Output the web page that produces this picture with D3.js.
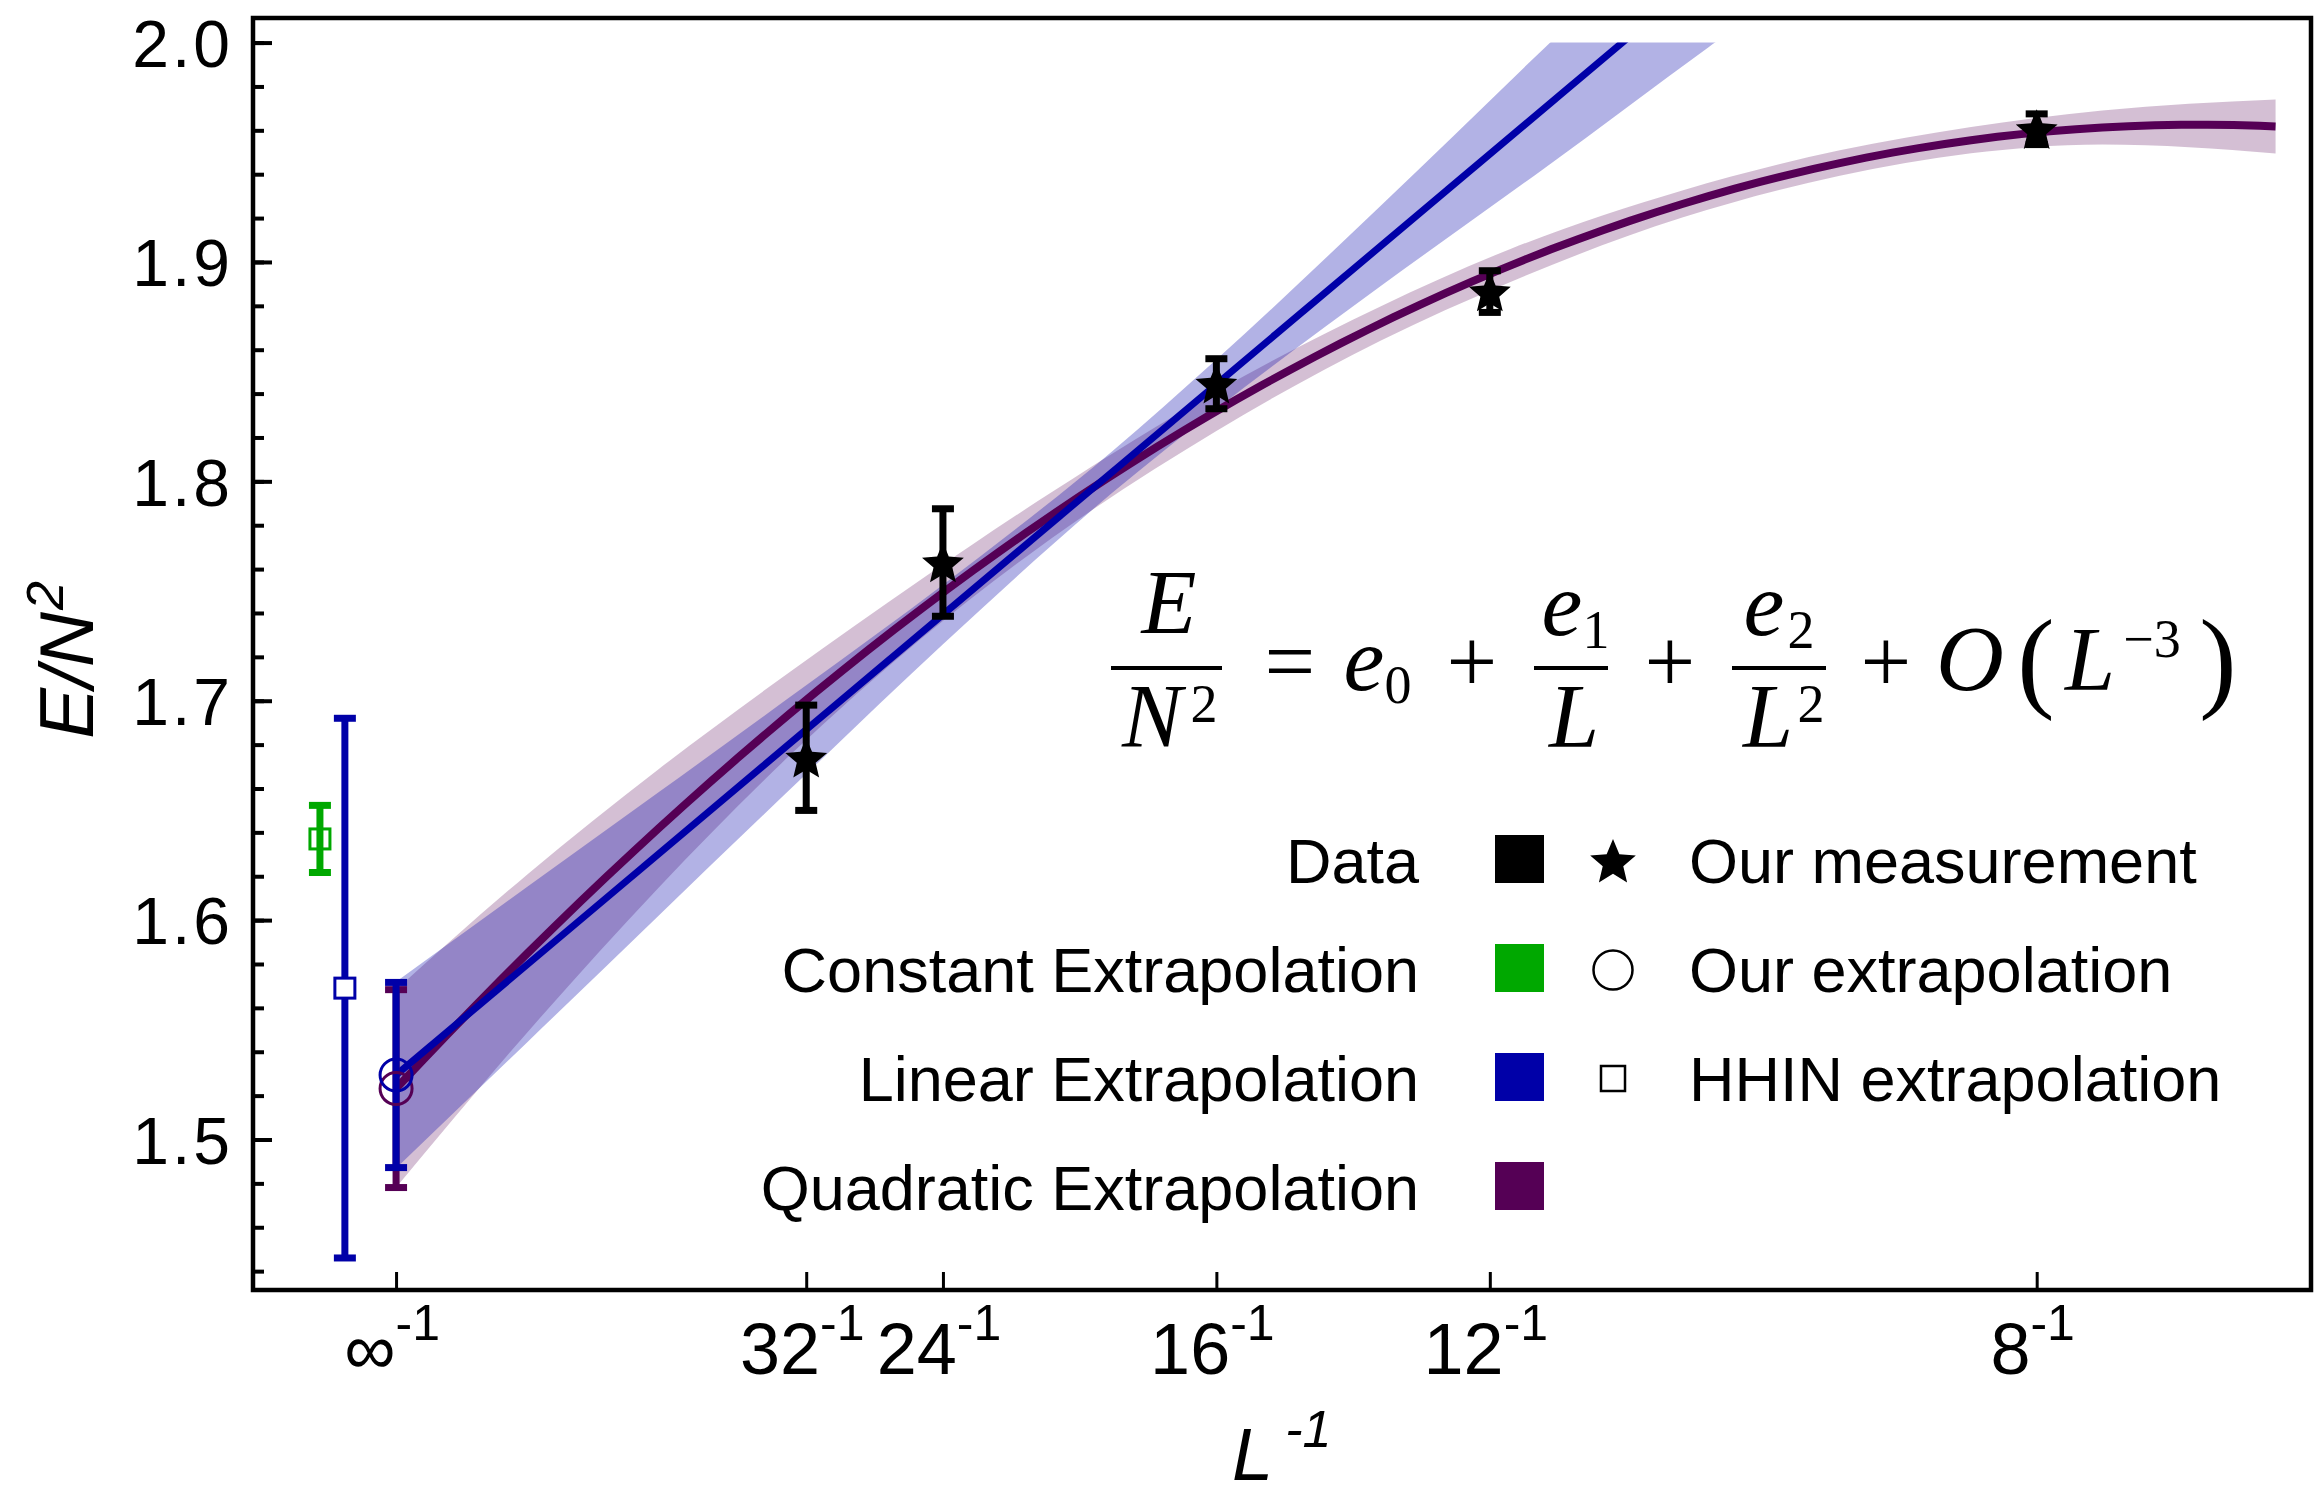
<!DOCTYPE html>
<html>
<head>
<meta charset="utf-8">
<script src="https://cdn.jsdelivr.net/npm/d3@7"></script>
<style>
  body { margin: 0; background: #fff; }
  svg { display: block; }
  text { font-family: 'Liberation Sans', Arial, Helvetica, sans-serif; }
  .math text { font-family: 'Liberation Serif', 'Times New Roman', serif; }
</style>
</head>
<body>
<div id="chart"></div>
<script>
// measured energies at each lattice size L
const sizes = [32, 24, 16, 12, 8]
const energy = [1.674, 1.763, 1.8445, 1.8865, 1.9605]
const energyErr = [0.024, 0.0245, 0.0114, 0.0095, 0.007]

// our extrapolations to L -> infinity
const ourNames = ['quadratic', 'linear']
const ourValues = [1.5232, 1.5294]
const ourErrs = [0.0451, 0.0422]

// HHIN extrapolations (drawn slightly left of L^-1 = 0)
const hhinNames = ['constant', 'linear']
const hhinX = [-0.0058, -0.0039]
const hhinValues = [1.637, 1.569]
const hhinErrs = [0.0153, 0.123]

// fit coefficients e0 + e1/L + e2/L^2
const linearFit = [1.5294, 5.037]
const quadFit = [1.5232, 6.395, -23.27]

// half widths of the shaded bands, read at these L^-1
const linBandX = [0, 0.01, 0.02, 0.03125, 0.04167, 0.0545, 0.0625, 0.075, 0.0875, 0.1, 0.11]
const linBandH = [0.0425, 0.0354, 0.0281, 0.0202, 0.0136, 0.0095, 0.0113, 0.0183, 0.0274, 0.0352, 0.0425]
const quadBandX = [0, 0.01, 0.02, 0.03, 0.04, 0.05, 0.0625, 0.075, 0.085, 0.098, 0.11, 0.12, 0.13, 0.1432]
const quadBandH = [0.0451, 0.036, 0.027, 0.019, 0.0135, 0.0105, 0.009, 0.0078, 0.0075, 0.0062, 0.0058, 0.006, 0.0078, 0.0123]

// axis ticks
const xTickSizes = [Infinity, 32, 24, 16, 12, 8]
const xTickText = ['\u221E', '32', '24', '16', '12', '8']
const yMajor = [1.5, 1.6, 1.7, 1.8, 1.9, 2.0]
const yMinor = d3.range(1.44, 2.001, 0.02)

// legend
const legendLeft = ['Data', 'Constant Extrapolation', 'Linear Extrapolation', 'Quadratic Extrapolation']
const legendRight = ['Our measurement', 'Our extrapolation', 'HHIN extrapolation']

const colors = { data: '#000', constant: '#00a800', linear: '#0000a8', quadratic: '#550055' }
const legendColors = [colors.data, colors.constant, colors.linear, colors.quadratic]

// sizes
const W = 2318, H = 1485
const frame = { left: 253, right: 2311, top: 18, bottom: 1290 }

const svg = d3.select('#chart').append('svg')
  .attr('width', W)
  .attr('height', H)

const x = d3.scaleLinear().domain([-0.0109, 0.1459]).range([frame.left, frame.right])
const y = d3.scaleLinear().domain([1.4314, 2.0112]).range([frame.bottom, frame.top])

const poly = c => t => c.reduce((s, ck, k) => s + ck * Math.pow(t, k), 0)
const linF = poly(linearFit)
const quadF = poly(quadFit)

// clip paths
const defs = svg.append('defs')
defs.append('clipPath').attr('id', 'plotClip')
  .append('rect')
    .attr('x', frame.left).attr('y', frame.top)
    .attr('width', frame.right - frame.left).attr('height', frame.bottom - frame.top)
defs.append('clipPath').attr('id', 'fitClip')
  .append('rect')
    .attr('x', frame.left).attr('y', y(2.0))
    .attr('width', frame.right - frame.left).attr('height', frame.bottom - y(2.0))

const plot = svg.append('g').attr('clip-path', 'url(#plotClip)')
const fits = plot.append('g').attr('clip-path', 'url(#fitClip)')

// bands
const band = (f, xs, hs) => {
  const pts = xs.map((v, i) => ({ x: v, h: hs[i] }))
  return d3.area()
    .x(d => x(d.x))
    .y0(d => y(f(d.x) - d.h))
    .y1(d => y(f(d.x) + d.h))
    .curve(d3.curveMonotoneX)(pts)
}

fits.append('path')
    .attr('d', band(quadF, quadBandX, quadBandH))
    .attr('fill', colors.quadratic)
    .attr('fill-opacity', 0.25)

fits.append('path')
    .attr('d', band(linF, linBandX, linBandH))
    .attr('fill', colors.linear)
    .attr('fill-opacity', 0.3)

// fit lines
const line = d3.line().x(d => x(d[0])).y(d => y(d[1]))
const quadXs = d3.range(0, 0.1432, 0.002).concat([0.1432])
fits.append('path')
    .attr('d', line(quadXs.map(t => [t, quadF(t)])))
    .attr('fill', 'none')
    .attr('stroke', colors.quadratic)
    .attr('stroke-width', 8)

fits.append('path')
    .attr('d', line([0, 0.11].map(t => [t, linF(t)])))
    .attr('fill', 'none')
    .attr('stroke', colors.linear)
    .attr('stroke-width', 7)

// error bars
const errorBar = (g, xv, yv, err, color, lw, capW) => {
  const px = x(xv)
  g.append('line')
      .attr('x1', px).attr('x2', px)
      .attr('y1', y(yv - err)).attr('y2', y(yv + err))
      .attr('stroke', color).attr('stroke-width', lw)
  ;[yv - err, yv + err].forEach(v => {
    g.append('line')
        .attr('x1', px - capW / 2).attr('x2', px + capW / 2)
        .attr('y1', y(v)).attr('y2', y(v))
        .attr('stroke', color).attr('stroke-width', lw)
  })
}

// five point star with fat arms, like the font glyph
const starPath = (R) => {
  const pts = d3.range(10).map(k => {
    const r = k % 2 ? R * 0.45 : R
    const a = Math.PI * k / 5
    return [r * Math.sin(a), -r * Math.cos(a)]
  })
  return d3.line()(pts) + 'Z'
}

const marks = plot.append('g')

// our extrapolations at L^-1 = 0
ourNames.forEach((n, i) => errorBar(marks, 0, ourValues[i], ourErrs[i], colors[n], 7, 22))
ourNames.forEach((n, i) => {
  marks.append('circle')
      .attr('cx', x(0)).attr('cy', y(ourValues[i]))
      .attr('r', 16)
      .attr('fill', 'none')
      .attr('stroke', colors[n])
      .attr('stroke-width', 3)
})

// HHIN extrapolations
hhinNames.forEach((n, i) => {
  errorBar(marks, hhinX[i], hhinValues[i], hhinErrs[i], colors[n], 7, 22)
  marks.append('rect')
      .attr('x', x(hhinX[i]) - 10).attr('y', y(hhinValues[i]) - 10)
      .attr('width', 20).attr('height', 20)
      .attr('fill', n === 'linear' ? '#fff' : 'none')
      .attr('stroke', colors[n])
      .attr('stroke-width', 3)
})

// measurements
sizes.forEach((L, i) => {
  errorBar(marks, 1 / L, energy[i], energyErr[i], colors.data, 7, 22)
  marks.append('path')
      .attr('d', starPath(22))
      .attr('transform', `translate(${x(1 / L)},${y(energy[i]) + 2})`)
      .attr('fill', colors.data)
})

// axes
const yMinorAxis = d3.axisLeft(y).tickValues(yMinor).tickSize(-11).tickFormat('')
const yMajorAxis = d3.axisLeft(y).tickValues(yMajor).tickSize(-19).tickPadding(20)
  .tickFormat(d3.format('.1f'))

svg.append('g')
    .attr('transform', `translate(${frame.left},0)`)
    .call(yMinorAxis)
    .call(g => g.select('.domain').remove())
    .call(g => g.selectAll('.tick line').attr('stroke-width', 4))

svg.append('g')
    .attr('transform', `translate(${frame.left},0)`)
    .call(yMajorAxis)
    .call(g => g.select('.domain').remove())
    .call(g => g.selectAll('.tick line').attr('stroke-width', 4))
    .call(g => g.selectAll('.tick text')
      .attr('font-size', 66)
      .attr('letter-spacing', 3)
      .attr('dy', '0.36em')
      .attr('fill', '#000'))

const xAxis = d3.axisBottom(x).tickValues(xTickSizes.map(L => 1 / L)).tickSize(-18).tickFormat('')
svg.append('g')
    .attr('transform', `translate(0,${frame.bottom})`)
    .call(xAxis)
    .call(g => g.select('.domain').remove())
    .call(g => g.selectAll('.tick line').attr('stroke-width', 3))

const xLabels = svg.append('g')
xTickSizes.forEach((L, i) => {
  const t = xLabels.append('text')
      .attr('x', x(1 / L) - 4)
      .attr('y', 1374)
      .attr('text-anchor', 'middle')
      .attr('font-size', 72)
  t.append('tspan').text(xTickText[i])
  t.append('tspan').attr('font-size', 50).attr('dy', -34).text('-1')
})

// frame
svg.append('rect')
    .attr('x', frame.left).attr('y', frame.top)
    .attr('width', frame.right - frame.left).attr('height', frame.bottom - frame.top)
    .attr('fill', 'none')
    .attr('stroke', '#000')
    .attr('stroke-width', 4.5)

// axis titles
const yTitle = svg.append('text')
    .attr('transform', 'translate(93,660) rotate(-90)')
    .attr('text-anchor', 'middle')
    .attr('font-size', 76)
    .attr('font-style', 'italic')
yTitle.append('tspan').text('E/N')
yTitle.append('tspan').attr('font-size', 52).attr('dy', -30).attr('dx', 2).text('2')

const xTitle = svg.append('text')
    .attr('x', 1232)
    .attr('y', 1480)
    .attr('font-size', 74)
    .attr('font-style', 'italic')
xTitle.append('tspan').text('L')
xTitle.append('tspan').attr('font-size', 52).attr('dy', -33).attr('dx', 12).text('-1')

// legend
const legend = svg.append('g').attr('font-size', 63)
const rowY = [883, 992, 1101, 1210]
legendLeft.forEach((s, i) => {
  legend.append('text')
      .attr('x', 1419).attr('y', rowY[i])
      .attr('text-anchor', 'end')
      .text(s)
  legend.append('rect')
      .attr('x', 1495).attr('y', rowY[i] - 48)
      .attr('width', 49).attr('height', 48)
      .attr('fill', legendColors[i])
})
legendRight.forEach((s, i) => {
  legend.append('text')
      .attr('x', 1689).attr('y', rowY[i])
      .text(s)
})
const symX = 1613
legend.append('path')
    .attr('d', starPath(24))
    .attr('transform', `translate(${symX},${rowY[0] - 20})`)
    .attr('fill', '#000')
legend.append('circle')
    .attr('cx', symX).attr('cy', rowY[1] - 22)
    .attr('r', 19.5)
    .attr('fill', 'none').attr('stroke', '#000').attr('stroke-width', 2.5)
legend.append('rect')
    .attr('x', symX - 12).attr('y', rowY[2] - 35)
    .attr('width', 24).attr('height', 25)
    .attr('fill', 'none').attr('stroke', '#000').attr('stroke-width', 2.5)

// formula E/N^2 = e0 + e1/L + e2/L^2 + O(L^-3)
const math = svg.append('g').attr('class', 'math')
const mt = (px, py, s, size, italic) => math.append('text')
    .attr('x', px).attr('y', py)
    .attr('font-size', size)
    .attr('font-style', italic ? 'italic' : 'normal')
    .attr('text-anchor', 'middle')
    .text(s)
const bar = (x1, x2) => math.append('line')
    .attr('x1', x1).attr('x2', x2).attr('y1', 668).attr('y2', 668)
    .attr('stroke', '#000').attr('stroke-width', 4)

mt(1169, 633, 'E', 90, true)
bar(1111, 1222)
mt(1152, 747, 'N', 90, true)
mt(1204, 722, '2', 54, false)
mt(1290, 692, '=', 90, false)
mt(1364, 690, 'e', 92, true)
mt(1398, 703, '0', 54, false)
mt(1472, 692, '+', 90, false)
mt(1562, 635, 'e', 92, true)
mt(1596, 648, '1', 54, false)
bar(1534, 1608)
mt(1574, 747, 'L', 90, true)
mt(1670, 692, '+', 90, false)
mt(1764, 635, 'e', 92, true)
mt(1801, 648, '2', 54, false)
bar(1732, 1826)
mt(1768, 747, 'L', 90, true)
mt(1811, 722, '2', 54, false)
mt(1886, 692, '+', 90, false)
mt(1970, 690, 'O', 94, true)
mt(2036, 697, '(', 112, false)
mt(2090, 690, 'L', 90, true)
mt(2152, 657, '\u22123', 54, false)
mt(2218, 697, ')', 112, false)
</script>
</body>
</html>
